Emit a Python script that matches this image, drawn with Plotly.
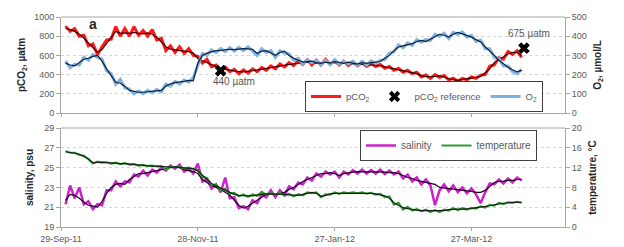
import pandas as pd
import plotly.graph_objects as go

# ---------------- data (values every 2 days, starting 1 Oct 2011) ----------------
start_date = "2011-10-01"
step_days = 2

pco2_raw = [905, 850, 880, 800, 810, 700, 720, 610, 690, 760,
            770, 900, 800, 880, 800, 900, 810, 860, 800, 870,
            760, 780, 650, 700, 630, 690, 620, 670, 600, 590,
            520, 560, 480, 500, 450, 480, 430, 455, 410, 450,
            415, 460, 430, 475, 445, 490, 460, 510, 480, 525,
            495, 545, 505, 555, 500, 550, 500, 560, 505, 545,
            500, 540, 495, 530, 490, 525, 485, 515, 485, 505,
            465, 485, 445, 465, 425, 445, 410, 425, 375, 395,
            360, 400, 370, 390, 345, 362, 330, 360, 345, 375,
            360, 395, 400, 490, 500, 575, 560, 640, 610, 650,
            580]
pco2_smooth = [880, 870, 850, 820, 780, 730, 680, 630, 660, 720,
               790, 850, 830, 835, 830, 840, 830, 825, 835, 820,
               790, 740, 690, 665, 655, 650, 645, 640, 625, 570,
               545, 525, 505, 485, 465, 455, 445, 435, 430, 428,
               432, 440, 448, 455, 462, 470, 480, 490, 497, 505,
               512, 520, 528, 530, 525, 520, 525, 530, 525, 520,
               522, 518, 515, 512, 510, 505, 500, 500, 500, 495,
               480, 470, 460, 448, 438, 430, 425, 410, 390, 378,
               375, 385, 388, 375, 357, 348, 340, 348, 357, 365,
               372, 380, 420, 460, 525, 555, 580, 615, 630, 630,
               600]
o2_raw = [270, 235, 255, 250, 290, 275, 305, 290, 280, 220,
          205, 150, 175, 130, 125, 100, 115, 100, 118, 105,
          122, 110, 150, 140, 165, 150, 172, 160, 185, 245,
          310, 300, 328, 315, 335, 320, 340, 322, 342, 325,
          345, 322, 300, 335, 315, 325, 290, 325, 312, 308,
          275, 285, 255, 278, 262, 275, 250, 275, 252, 278,
          255, 268, 255, 270, 248, 270, 250, 272, 258, 275,
          278, 312, 318, 355, 340, 365, 352, 382, 368, 382,
          378, 410, 400, 415, 388, 420, 410, 422, 395, 405,
          372, 380, 335, 335, 290, 285, 245, 245, 215, 205,
          228]
o2_smooth = [260, 250, 245, 265, 280, 285, 295, 300, 270, 230,
             195, 160, 155, 140, 118, 112, 108, 108, 110, 112,
             114, 118, 140, 152, 158, 160, 165, 170, 168, 260,
             300, 312, 318, 325, 326, 330, 332, 330, 333, 335,
             334, 332, 310, 322, 325, 312, 300, 315, 322, 300,
             285, 275, 265, 268, 270, 262, 258, 265, 260, 268,
             262, 258, 265, 260, 255, 262, 258, 262, 265, 268,
             285, 300, 325, 344, 350, 356, 361, 372, 378, 372,
             385, 400, 410, 405, 396, 410, 420, 412, 404, 395,
             382, 370, 345, 325, 300, 275, 255, 238, 225, 214,
             222]
sal_raw = [21.3, 23.2, 21.9, 23.0, 21.3, 21.6, 20.8, 21.3, 21.2, 22.7,
           22.7, 23.6, 23.1, 23.6, 23.5, 24.3, 24.1, 24.7, 24.2, 24.8,
           24.5, 25.0, 24.7, 25.2, 24.9, 25.3, 24.6, 24.9, 24.4, 25.4,
           23.6, 23.8, 22.9, 23.3, 22.5, 24.0, 21.9, 22.0, 20.9, 21.1,
           20.8, 21.7, 21.4, 22.3, 22.0, 22.7, 22.0, 22.7, 22.2, 23.1,
           22.8, 23.5, 23.3, 24.0, 23.7, 24.4, 24.1, 24.6, 24.3, 24.6,
           24.0, 24.6, 24.3, 24.75, 24.4, 24.8, 24.4, 24.75, 24.4, 24.8,
           24.35, 24.7, 24.3, 24.6, 23.9, 24.3, 23.6, 24.0, 23.3, 23.8,
           23.2, 21.2, 22.7, 23.3, 22.6, 23.2, 22.5, 23.0, 22.4, 22.9,
           22.3, 21.4, 22.5, 23.4, 23.3, 23.8, 23.4, 23.9, 23.5, 24.0,
           23.7]
sal_smooth = [21.7, 22.3, 22.2, 21.9, 21.5, 21.2, 21.1, 21.0, 21.6, 22.4,
              23.0, 23.3, 23.4, 23.3, 23.8, 24.1, 24.4, 24.4, 24.5, 24.55,
              24.7, 24.8, 24.9, 25.0, 25.1, 25.0, 24.8, 24.7, 24.6, 24.4,
              23.8, 23.5, 23.2, 23.0, 22.8, 22.5, 22.2, 21.7, 21.2, 20.9,
              21.1, 21.4, 21.7, 22.0, 22.3, 22.4, 22.3, 22.4, 22.5, 22.8,
              23.0, 23.3, 23.6, 23.8, 24.0, 24.2, 24.4, 24.4, 24.5, 24.4,
              24.2, 24.4, 24.5, 24.55, 24.6, 24.6, 24.6, 24.55, 24.6, 24.6,
              24.55, 24.5, 24.5, 24.4, 24.2, 24.0, 23.9, 23.7, 23.6, 23.5,
              23.4, 23.3, 23.0, 22.95, 22.9, 22.85, 22.8, 22.7, 22.65, 22.6,
              22.5, 22.5, 22.7, 23.1, 23.5, 23.6, 23.6, 23.7, 23.7, 23.8,
              23.8]
temp_raw = [15.3, 15.0, 15.0, 14.6, 14.4, 13.7, 12.8, 13.2, 13.0, 13.1,
            12.8, 13.0, 12.7, 12.9, 12.6, 12.7, 12.4, 12.5, 12.3, 12.4,
            12.2, 12.3, 11.5, 12.2, 12.0, 12.1, 11.8, 12.0, 11.7, 11.5,
            10.1, 9.9, 8.5, 8.6, 7.5, 7.7, 6.7, 6.9, 6.2, 6.6,
            6.1, 6.6, 6.3, 7.1, 6.5, 6.9, 6.5, 6.9, 6.4, 6.7,
            6.2, 6.6, 6.4, 7.0, 6.8, 7.0, 6.0, 6.6, 6.5, 7.0,
            6.7, 7.0, 6.8, 7.0, 6.8, 7.0, 6.7, 6.9, 6.5, 6.7,
            6.0, 6.2, 4.5, 4.9, 3.5, 4.1, 3.3, 3.6, 3.2, 3.5,
            3.0, 3.4, 3.0, 3.5, 3.3, 3.8, 3.4, 3.8, 3.5, 3.9,
            3.7, 4.2, 3.9, 4.5, 4.3, 4.9, 4.6, 5.0, 4.9, 5.1,
            4.9]
temp_smooth = [15.2, 15.1, 14.9, 14.7, 14.3, 13.8, 13.0, 13.1, 13.1, 13.0,
               12.9, 12.9, 12.8, 12.8, 12.7, 12.6, 12.5, 12.4, 12.4, 12.3,
               12.3, 12.2, 12.2, 12.1, 12.1, 12.0, 11.9, 11.9, 11.8, 11.3,
               10.4, 9.6, 8.8, 8.3, 7.8, 7.4, 7.0, 6.6, 6.4, 6.3,
               6.3, 6.3, 6.5, 6.6, 6.7, 6.7, 6.7, 6.7, 6.6, 6.5,
               6.4, 6.4, 6.6, 6.8, 7.0, 6.8, 6.2, 6.4, 6.7, 6.8,
               6.8, 6.9, 6.9, 6.9, 6.9, 6.9, 6.8, 6.8, 6.7, 6.5,
               6.3, 5.8, 4.9, 4.4, 3.9, 3.7, 3.5, 3.4, 3.3, 3.3,
               3.2, 3.2, 3.2, 3.3, 3.5, 3.6, 3.6, 3.6, 3.6, 3.7,
               3.9, 4.0, 4.1, 4.3, 4.5, 4.7, 4.8, 4.9, 4.95, 5.0,
               5.0]

ref_dates = ["2011-12-08", "2012-04-19"]
ref_values = [440, 675]
ref_labels = ["440 µatm", "675 µatm"]

tick_dates = ["2011-09-29", "2011-11-28", "2012-01-27", "2012-03-27"]
tick_labels = ["29-Sep-11", "28-Nov-11", "27-Jan-12", "27-Mar-12"]
x_range = ["2011-09-29", "2012-05-07"]


def dates_for(values):
    return pd.date_range(start_date, periods=len(values), freq=f"{step_days}D")


# ---------------- figure ----------------
W, H = 624, 247
fig = go.Figure()

FONT = "Liberation Sans, Arial, sans-serif"
GRAY = "#595959"

# top panel
fig.add_trace(go.Scatter(x=dates_for(pco2_raw), y=pco2_raw, mode="lines", name="pCO<sub>2</sub>",
                         line=dict(color="#ff1a1a", width=3), xaxis="x", yaxis="y", legend="legend"))
fig.add_trace(go.Scatter(x=ref_dates, y=ref_values, mode="markers", name="pCO<sub>2</sub> reference",
                         marker=dict(symbol="x", size=10, color="black"), xaxis="x", yaxis="y",
                         legend="legend"))
fig.add_trace(go.Scatter(x=dates_for(o2_raw), y=o2_raw, mode="lines", name="O<sub>2</sub>",
                         line=dict(color="#7fb2e0", width=3), xaxis="x", yaxis="y2", legend="legend"))
fig.add_trace(go.Scatter(x=dates_for(pco2_smooth), y=pco2_smooth, mode="lines", showlegend=False,
                         line=dict(color="#300000", width=1.2), xaxis="x", yaxis="y"))
fig.add_trace(go.Scatter(x=dates_for(o2_smooth), y=o2_smooth, mode="lines", showlegend=False,
                         line=dict(color="#0d1f3c", width=1.2), xaxis="x", yaxis="y2"))
fig.add_trace(go.Scatter(x=ref_dates, y=ref_values, mode="markers", showlegend=False,
                         marker=dict(symbol="x", size=10, color="black"), xaxis="x", yaxis="y"))

# bottom panel
fig.add_trace(go.Scatter(x=dates_for(sal_raw), y=sal_raw, mode="lines", name="salinity",
                         line=dict(color="#cc22cc", width=2.5), xaxis="x2", yaxis="y3", legend="legend2"))
fig.add_trace(go.Scatter(x=dates_for(temp_raw), y=temp_raw, mode="lines", name="temperature",
                         line=dict(color="#2e9a2e", width=2.0), xaxis="x2", yaxis="y4", legend="legend2"))
fig.add_trace(go.Scatter(x=dates_for(sal_smooth), y=sal_smooth, mode="lines", showlegend=False,
                         line=dict(color="#200020", width=1.2), xaxis="x2", yaxis="y3"))
fig.add_trace(go.Scatter(x=dates_for(temp_smooth), y=temp_smooth, mode="lines", showlegend=False,
                         line=dict(color="#102010", width=1.2), xaxis="x2", yaxis="y4"))

L, R, T, B = 61, 59, 17, 20
ph = H - T - B
top_dom = [1 - 96 / ph, 1]
bot_dom = [0, 99 / ph]

tickfont = dict(family=FONT, size=9, color=GRAY)
titlefont = dict(family=FONT, size=10, color="#262626")
axis_line = "#a6a6a6"
grid = "#d4d4d4"

xcommon = dict(type="date", range=x_range, tickvals=tick_dates, ticktext=tick_labels,
               showgrid=False, showline=True, linecolor=axis_line, ticks="outside",
               ticklen=3, tickcolor=axis_line, tickfont=tickfont, zeroline=False)
fig.update_layout(
    width=W, height=H, margin=dict(l=L, r=R, t=T, b=B, autoexpand=False),
    paper_bgcolor="white", plot_bgcolor="white",
    font=dict(family=FONT, size=9, color=GRAY),
    xaxis=dict(**xcommon, anchor="y", showticklabels=False, domain=[0, 1]),
    xaxis2=dict(**xcommon, anchor="y3", domain=[0, 1]),
    yaxis=dict(domain=top_dom, range=[0, 1000], tick0=0, dtick=200, showgrid=True, gridcolor=grid,
               griddash="dot", showline=True, linecolor=axis_line, ticks="outside", ticklen=4,
               tickcolor=axis_line, tickfont=tickfont, zeroline=False,
               title=dict(text="<b>pCO<sub>2</sub>, µatm</b>", font=titlefont, standoff=6)),
    yaxis2=dict(overlaying="y", side="right", anchor="x", range=[0, 500], tick0=0, dtick=100,
                showgrid=False, showline=True, linecolor=axis_line, ticks="outside", ticklen=4,
                tickcolor=axis_line, tickfont=tickfont, zeroline=False,
                title=dict(text="<b>O<sub>2</sub>, µmol/L</b>", font=titlefont, standoff=8)),
    yaxis3=dict(domain=bot_dom, anchor="x2", range=[19, 29], tick0=19, dtick=2, showgrid=True,
                gridcolor=grid, griddash="dot", showline=True, linecolor=axis_line, ticks="outside",
                ticklen=4, tickcolor=axis_line, tickfont=tickfont, zeroline=False,
                title=dict(text="<b>salinity, psu</b>", font=titlefont, standoff=8)),
    yaxis4=dict(overlaying="y3", side="right", anchor="x2", range=[0, 20], tick0=0, dtick=4,
                showgrid=False, showline=True, linecolor=axis_line, ticks="outside", ticklen=4,
                tickcolor=axis_line, tickfont=tickfont, zeroline=False,
                title=dict(text="<b>temperature, °C</b>", font=titlefont, standoff=8)),
    legend=dict(orientation="h", x=(305 - L) / 504, y=(227 - 112) / ph, xanchor="left",
                yanchor="bottom", bgcolor="white", bordercolor="#404040", borderwidth=1,
                font=dict(family=FONT, size=9.5, color=GRAY), tracegroupgap=0, itemwidth=30),
    legend2=dict(orientation="h", x=(360 - L) / 504, y=(227 - 130) / ph, xanchor="left", yanchor="top",
                 bgcolor="white", bordercolor="#404040", borderwidth=1,
                 font=dict(family=FONT, size=10, color=GRAY), itemwidth=30),
    showlegend=True,
)

# top border lines of each panel
for yref_ in ("y domain", "y3 domain"):
    fig.add_shape(type="line", xref="paper", yref=yref_, x0=0, x1=1, y0=1, y1=1,
                  line=dict(color="#a6a6a6", width=1))

fig.add_annotation(x=(93 - L) / 504, y=(227 - 24) / ph, xref="paper", yref="paper",
                   xanchor="center", yanchor="middle",
                   text="<b>a</b>", showarrow=False, font=dict(family=FONT, size=14, color="#262626"))
fig.add_annotation(x="2011-12-14", y=323, xref="x", yref="y", text=ref_labels[0], showarrow=False,
                   xanchor="center", yanchor="middle", font=dict(family=FONT, size=10, color=GRAY))
fig.add_annotation(x="2012-04-21", y=830, xref="x", yref="y", text=ref_labels[1], showarrow=False,
                   xanchor="center", yanchor="middle", font=dict(family=FONT, size=10, color=GRAY))

fig.write_html("out.html",
               config={"displayModeBar": False},
               post_script="document.body.style.margin='0';document.body.style.padding='0';"
                           "document.body.style.overflow='hidden';")
